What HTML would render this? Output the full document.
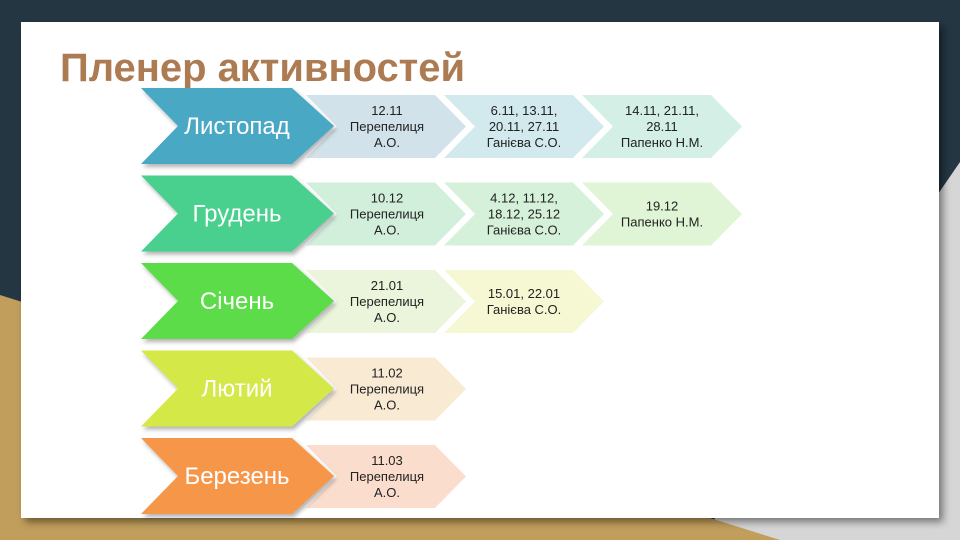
<!DOCTYPE html>
<html><head><meta charset="utf-8"><style>
html,body{margin:0;padding:0;width:960px;height:540px;overflow:hidden;background:#233642;}
svg{display:block}
.s{font-family:"Liberation Sans","DejaVu Sans",sans-serif;font-size:13px;fill:#222;text-anchor:middle}
.b{font-family:"Liberation Sans","DejaVu Sans",sans-serif;font-size:24px;fill:#fff;text-anchor:middle}
</style></head><body>
<svg width="960" height="540" viewBox="0 0 960 540" xmlns="http://www.w3.org/2000/svg">
<defs>
<filter id="sh" x="-10%" y="-10%" width="120%" height="130%"><feDropShadow dx="2" dy="3" stdDeviation="2" flood-opacity="0.3"/></filter>
<filter id="cs" x="-5%" y="-5%" width="110%" height="115%"><feDropShadow dx="4" dy="4" stdDeviation="4" flood-opacity="0.45"/></filter>
</defs>
<rect width="960" height="540" fill="#233642"/>
<polygon points="960,162 960,540 700,540" fill="#d6d6d6"/>
<polygon points="0,295 780,540 0,540" fill="#c19e5c"/>
<rect x="21" y="22" width="918" height="496" fill="#fff" filter="url(#cs)"/>
<text x="60" y="81" font-family="Liberation Sans, sans-serif" font-weight="bold" font-size="40" fill="#ad7b52" textLength="405" lengthAdjust="spacingAndGlyphs">Пленер активностей</text>

<g transform="translate(0,88)">
<polygon points="306,7 435,7 466,38.5 435,70 306,70 337,38.5" fill="#d2e2ea"/>
<polygon points="444,7 573,7 604,38.5 573,70 444,70 475,38.5" fill="#d2e9ed"/>
<polygon points="582,7 711,7 742,38.5 711,70 582,70 613,38.5" fill="#d3efe6"/>
<polygon points="141,0 292,0 334,38 292,76 141,76 178,38" fill="#4aa8c4" filter="url(#sh)"/>
<text class="b" x="237" y="46">Листопад</text>
<text class="s" x="387" y="27">12.11</text><text class="s" x="387" y="43">Перепелиця</text><text class="s" x="387" y="59">А.О.</text>
<text class="s" x="524" y="27">6.11, 13.11,</text><text class="s" x="524" y="43">20.11, 27.11</text><text class="s" x="524" y="59">Ганієва С.О.</text>
<text class="s" x="662" y="27">14.11, 21.11,</text><text class="s" x="662" y="43">28.11</text><text class="s" x="662" y="59">Папенко Н.М.</text>
</g>
<g transform="translate(0,175.5)">
<polygon points="306,7 435,7 466,38.5 435,70 306,70 337,38.5" fill="#d2efdc"/>
<polygon points="444,7 573,7 604,38.5 573,70 444,70 475,38.5" fill="#d5f1d9"/>
<polygon points="582,7 711,7 742,38.5 711,70 582,70 613,38.5" fill="#dff5d5"/>
<polygon points="141,0 292,0 334,38 292,76 141,76 178,38" fill="#48d08e" filter="url(#sh)"/>
<text class="b" x="237" y="46">Грудень</text>
<text class="s" x="387" y="27">10.12</text><text class="s" x="387" y="43">Перепелиця</text><text class="s" x="387" y="59">А.О.</text>
<text class="s" x="524" y="27">4.12, 11.12,</text><text class="s" x="524" y="43">18.12, 25.12</text><text class="s" x="524" y="59">Ганієва С.О.</text>
<text class="s" x="662" y="35">19.12</text><text class="s" x="662" y="51">Папенко Н.М.</text>
</g>
<g transform="translate(0,263)">
<polygon points="306,7 435,7 466,38.5 435,70 306,70 337,38.5" fill="#ebf5dc"/>
<polygon points="444,7 573,7 604,38.5 573,70 444,70 475,38.5" fill="#f5f8d2"/>
<polygon points="141,0 292,0 334,38 292,76 141,76 178,38" fill="#5ddc4a" filter="url(#sh)"/>
<text class="b" x="237" y="46">Січень</text>
<text class="s" x="387" y="27">21.01</text><text class="s" x="387" y="43">Перепелиця</text><text class="s" x="387" y="59">А.О.</text>
<text class="s" x="524" y="35">15.01, 22.01</text><text class="s" x="524" y="51">Ганієва С.О.</text>
</g>
<g transform="translate(0,350.5)">
<polygon points="306,7 435,7 466,38.5 435,70 306,70 337,38.5" fill="#f9ead4"/>
<polygon points="141,0 292,0 334,38 292,76 141,76 178,38" fill="#d4e846" filter="url(#sh)"/>
<text class="b" x="237" y="46">Лютий</text>
<text class="s" x="387" y="27">11.02</text><text class="s" x="387" y="43">Перепелиця</text><text class="s" x="387" y="59">А.О.</text>
</g>
<g transform="translate(0,438)">
<polygon points="306,7 435,7 466,38.5 435,70 306,70 337,38.5" fill="#fbddcd"/>
<polygon points="141,0 292,0 334,38 292,76 141,76 178,38" fill="#f5964a" filter="url(#sh)"/>
<text class="b" x="237" y="46">Березень</text>
<text class="s" x="387" y="27">11.03</text><text class="s" x="387" y="43">Перепелиця</text><text class="s" x="387" y="59">А.О.</text>
</g>
</svg>
</body></html>
